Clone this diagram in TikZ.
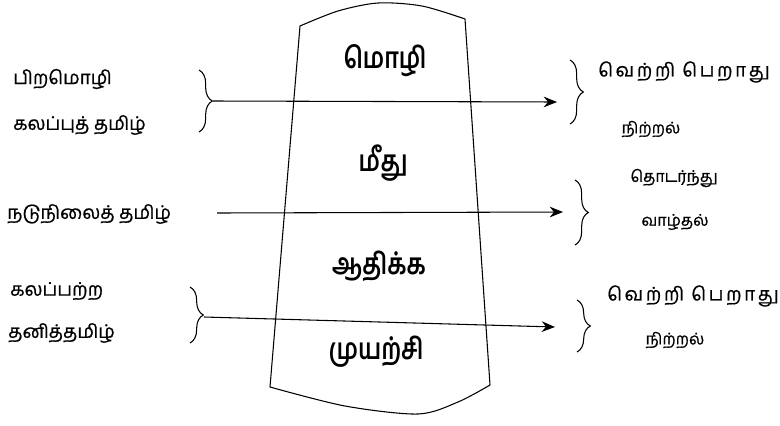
\documentclass[tikz,border=0pt]{standalone}
\usepackage{fontspec}
\newfontfamily\tamil[Script=Tamil,FakeBold=0.8]{Hind Madurai}
\newfontfamily\tamilwide[Script=Tamil,FakeBold=0.8,LetterSpace=14]{Hind Madurai}
\newfontfamily\headfont[Script=Tamil,FakeStretch=0.8]{Hind Madurai}
\usetikzlibrary{arrows.meta, decorations.pathreplacing}

\begin{document}
\begin{tikzpicture}[
        x=0.75pt, y=-0.75pt,
        side/.style={font=\tamil\fontsize{14}{16}\selectfont, inner sep=0pt},
        wide/.style={font=\tamilwide\fontsize{14}{16}\selectfont, inner sep=0pt},
        small/.style={font=\tamil\fontsize{12}{14}\selectfont, inner sep=0pt},
        head/.style={font=\headfont\bfseries\fontsize{22}{24}\selectfont, inner sep=0pt},
        brc/.style={thick, decorate, decoration={brace, amplitude=10pt}},
        arrow/.style={-{Stealth[length=10pt, width=8pt]}, thick}
      ]
        \useasboundingbox (0,0) rectangle (780,425);
        % vessel outline
        \draw[thick, line join=round]
              plot[smooth] coordinates {(300,26) (338,11) (378,3) (422,6) (465,19)}
              -- (490,385)
              -- plot[smooth] coordinates {(490,385) (458,402) (418,414) (345,406) (270,387)}
              -- cycle;
        \node[head] (mozhi) at (385,61) {மொழி};
        \node[head] (meethu) at (383,163) {மீது};
        \node[head] (aathikka) at (379,266) {ஆதிக்க};
        \node[head] (muyarchi) at (376,352) {முயற்சி};
        % left labels
        \node[side, anchor=west] (piramozhi) at (13,79) {பிறமொழி};
        \node[side, anchor=west] (kalappu) at (13,125) {கலப்புத் தமிழ்};
        \node[side, anchor=west] (nadunilai) at (7,214) {நடுநிலைத் தமிழ்};
        \node[side, anchor=west] (kalappatra) at (10,291) {கலப்பற்ற};
        \node[side, anchor=west] (thani) at (8,333) {தனித்தமிழ்};
        % right labels
        \node[wide, anchor=west] (vetri1) at (598,72) {வெற்றி பெறாது};
        \node[small] (nirral1) at (651,129) {நிற்றல்};
        \node[small] (thodarnthu) at (674,178) {தொடர்ந்து};
        \node[small] (vaazhthal) at (675,222) {வாழ்தல்};
        \node[wide, anchor=west] (vetri2) at (607,296) {வெற்றி பெறாது};
        \node[small] (nirral2) at (675,340) {நிற்றல்};
        % braces
        \draw[brc] (199,70) -- (199,132);
        \draw[brc] (190,287) -- (190,343);
        \draw[brc] (570,60) -- (570,124);
        \draw[brc] (575,180) -- (575,245);
        \draw[brc] (577,300) -- (577,352);
        % arrow ends
        \coordinate (s1) at (213,101);
        \coordinate (e1) at (557,102);
        \coordinate (s2) at (217,213);
        \coordinate (e2) at (563,212);
        \coordinate (s3) at (204,317);
        \coordinate (e3) at (555,327);
        \draw[arrow] (s1) -- (e1);
        \draw[arrow] (s2) -- (e2);
        \draw[arrow] (s3) -- (e3);
      \end{tikzpicture}
\end{document}
